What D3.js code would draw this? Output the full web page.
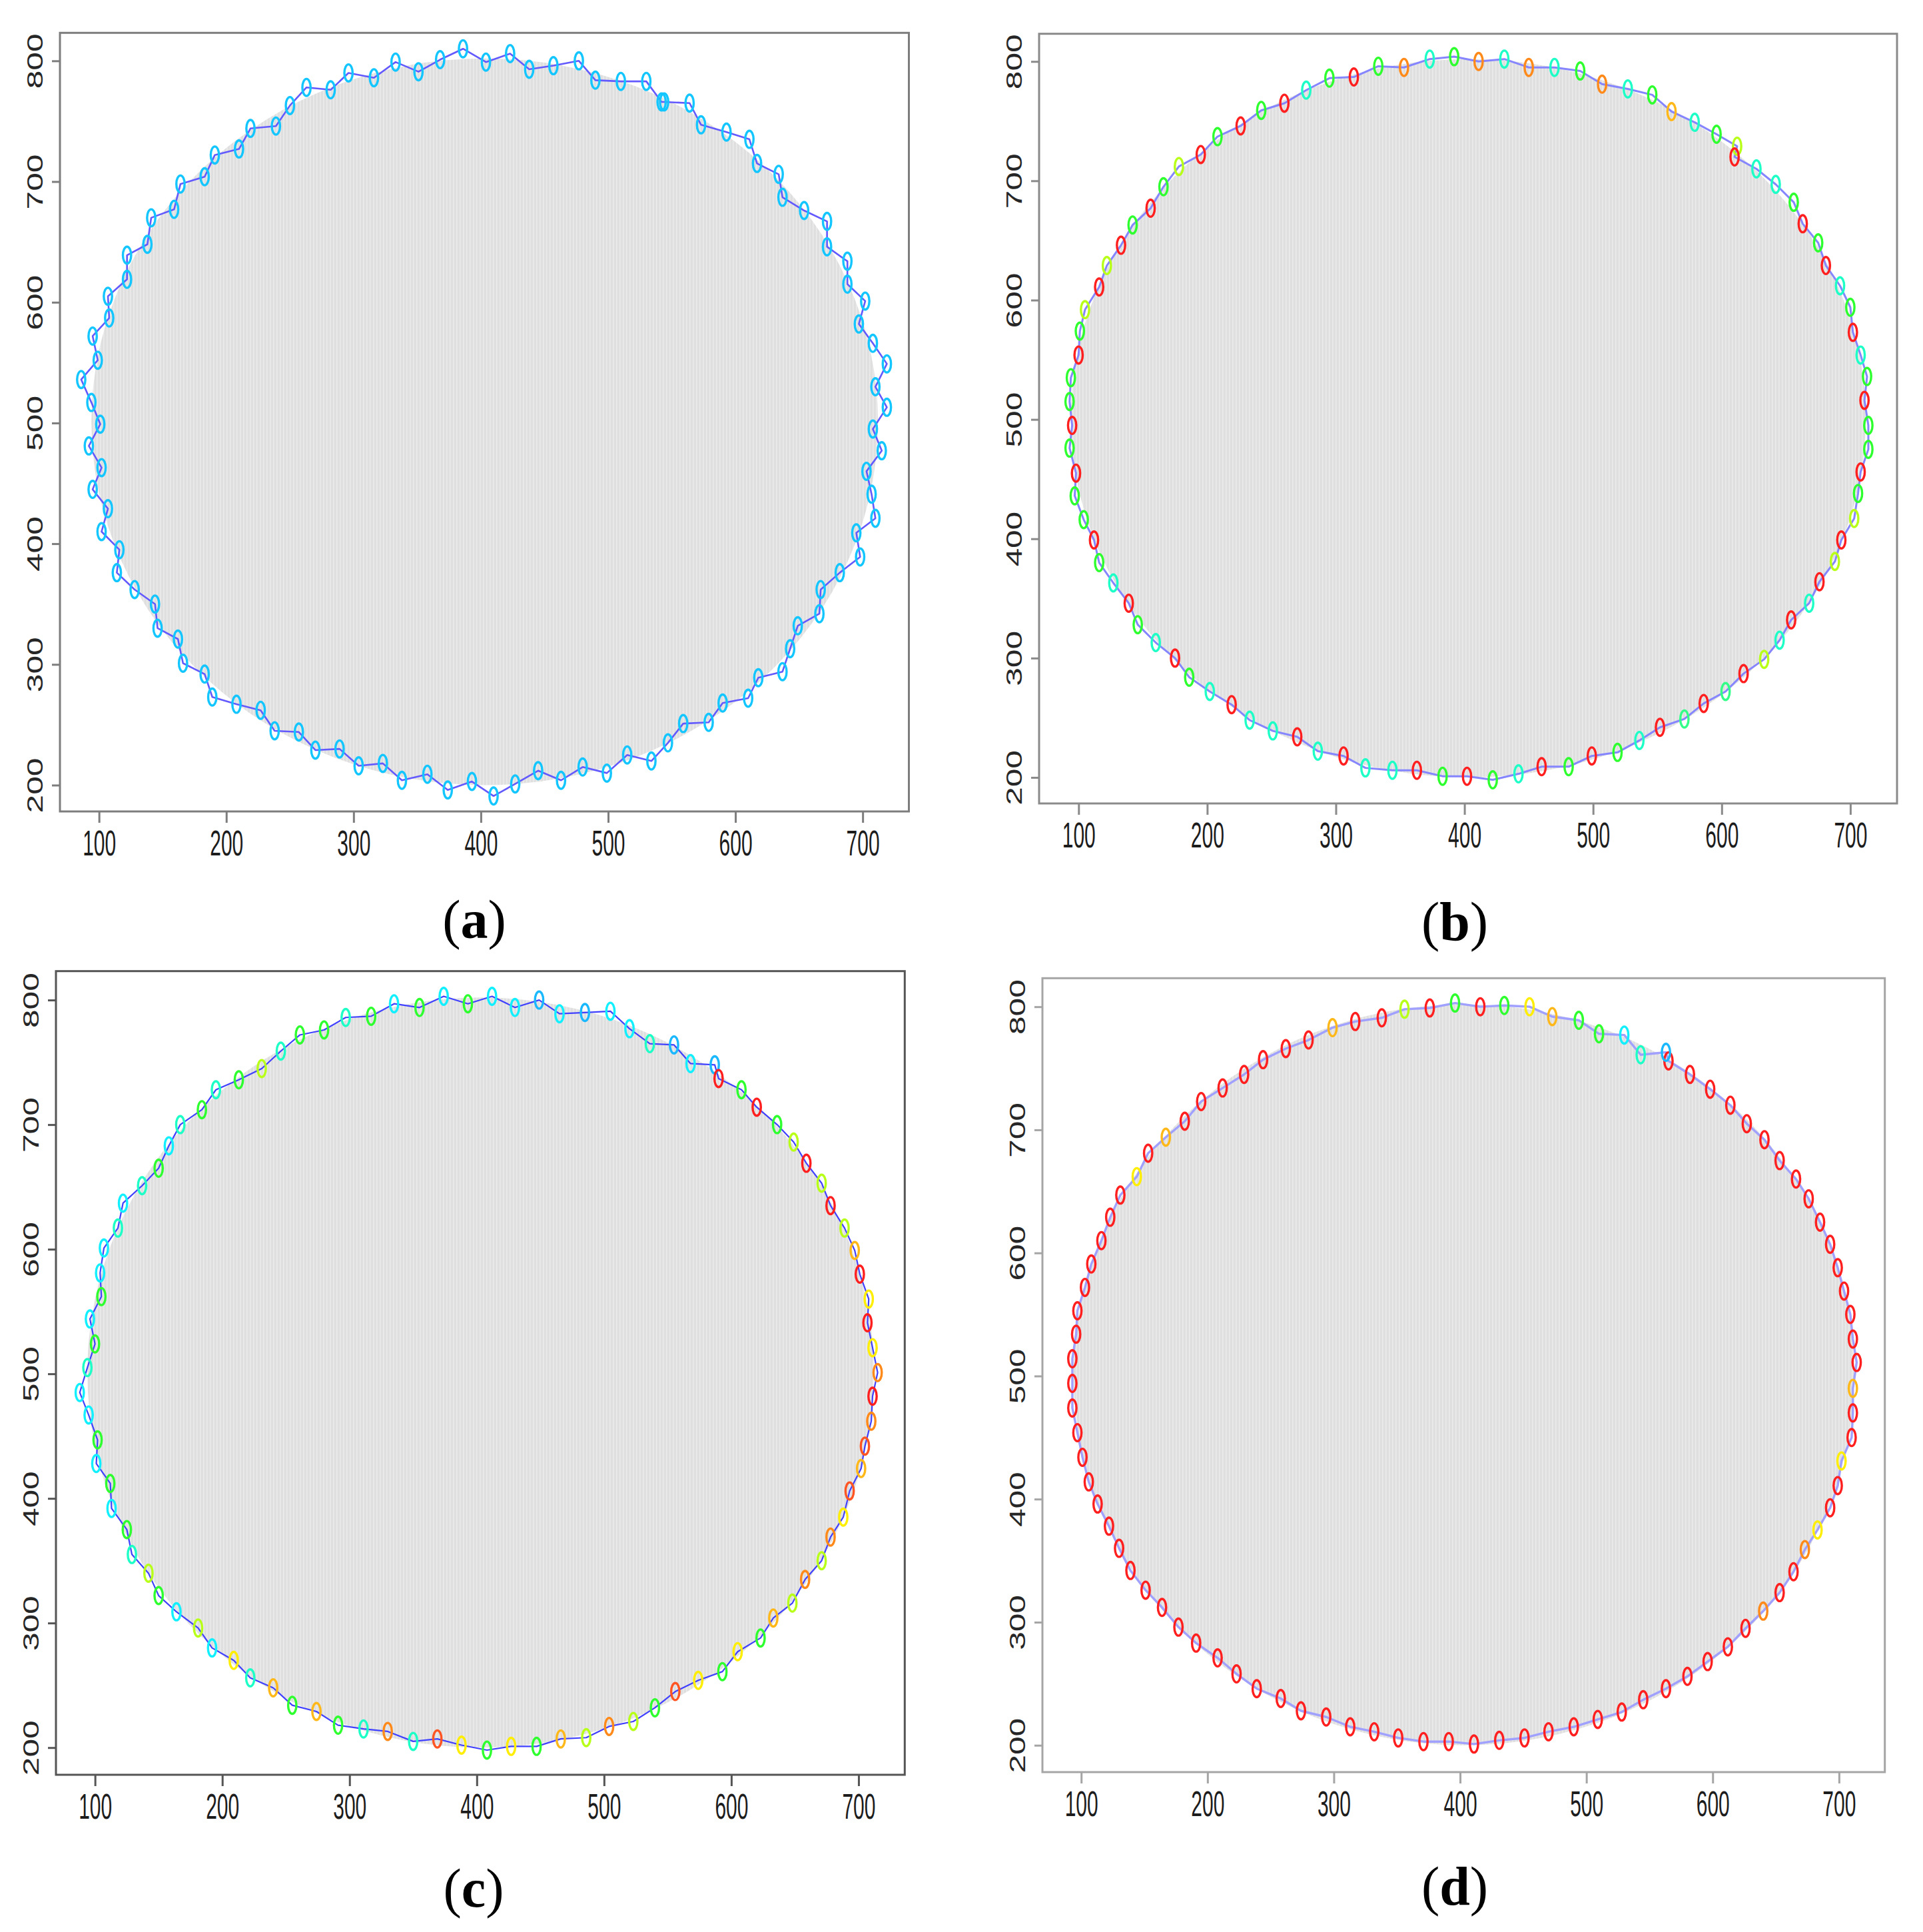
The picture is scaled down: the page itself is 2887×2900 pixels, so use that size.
<!DOCTYPE html>
<html><head><meta charset="utf-8">
<script src="https://cdn.jsdelivr.net/npm/d3@7"></script>
<style>html,body{margin:0;padding:0;background:#fff;} svg{display:block;}</style>
</head><body>
<svg id="chart" width="2887" height="2900"></svg>
<script>
// ---------- data ----------
const xTicks = [100, 200, 300, 400, 500, 600, 700];
const yTicks = [200, 300, 400, 500, 600, 700, 800];
const xDomain = [69.3, 736.3];
const yDomain = [178.2, 823.2];
const regionCenter = [403, 501];
const regionRadii = [309, 301];
const panelLetters = ["a", "b", "c", "d"];

// panel (a)
const aX = [86,99,95,108,107,122,122,138,141,159,164,183,191,210,219,239,250,263,282,296,316,333,351,368,386,404,423,438,457,477,490,510,530,542,544,564,573,593,611,617,634,637,654,672,672,688,688,702,697,708,719,710,719,708,715,703,707,710,695,698,682,667,666,649,643,637,618,610,590,579,559,547,534,515,499,480,463,445,427,410,393,374,358,338,323,304,289,270,257,238,227,208,189,183,166,162,146,144,128,114,116,102,107,95,102,92,101,94];
const aY = [536,552,572,587,605,619,639,648,670,677,698,704,722,727,744,746,763,778,776,790,786,799,791,801,810,799,806,793,796,800,784,783,783,766,766,765,747,741,735,715,706,687,676,667,646,634,615,601,582,566,549,530,513,495,477,460,441,421,409,389,376,362,342,332,313,294,289,272,268,252,251,235,220,225,210,215,204,212,201,191,203,196,209,204,218,216,230,229,244,245,262,267,273,292,301,321,330,350,362,376,395,410,429,445,463,481,499,517];
const aC = aX.map(() => "AC");

// panel (b)
const bX = [93,95,93,94,100,101,105,116,122,133,142,156,166,178,195,208,226,242,260,277,295,314,333,353,373,392,411,431,450,470,490,507,527,546,561,579,596,612,610,627,642,656,663,675,681,692,700,702,708,713,711,714,714,708,706,703,693,688,676,668,654,645,633,617,603,586,571,552,536,519,499,481,460,442,422,402,383,363,344,323,306,286,270,251,233,219,202,186,175,160,146,139,127,116,112,104,97,98];
const bY = [476,495,515,535,554,574,592,611,629,646,663,677,695,712,722,737,746,759,765,776,786,787,796,795,802,804,800,802,795,795,792,781,777,772,758,749,739,729,720,710,697,682,664,648,629,612,594,573,554,536,516,495,475,456,438,417,399,381,364,346,332,315,299,287,272,262,249,242,231,221,218,209,209,203,198,201,201,206,206,208,218,222,234,239,248,261,272,284,300,313,328,346,363,380,399,416,436,455];
const bC = ["G","R","G","G","R","G","YG","R","YG","R","G","R","G","YG","R","G","R","G","R","AQ","G","R","G","O","AQ","G","O","AQ","O","AQ","G","O","AQ","G","A","AQ","G","YG","R","AQ","AQ","G","R","G","R","AQ","G","R","AQ","G","R","G","G","R","G","YG","R","YG","R","AQ","R","AQ","YG","R","SG","R","SG","R","AQ","G","R","G","R","AQ","G","R","G","R","AQ","AQ","R","AQ","R","AQ","AQ","R","AQ","G","R","AQ","G","R","AQ","G","R","G","G","R"];

// panel (c)
const cX = [88,94,100,96,105,104,107,118,122,137,150,158,167,184,195,213,231,246,261,280,297,317,335,355,374,393,412,430,449,465,485,505,520,536,555,568,587,590,608,620,636,649,659,671,678,689,697,701,708,707,711,715,711,710,705,702,693,688,678,671,658,648,633,623,605,593,574,556,540,523,504,486,466,447,427,408,388,369,350,330,311,291,274,255,240,222,209,192,181,164,150,142,129,125,113,112,101,102,95];
const cY = [485,505,524,544,562,581,601,617,637,651,665,683,700,712,728,736,745,759,772,776,786,787,797,794,803,797,803,794,800,789,790,791,777,765,764,749,748,737,728,714,700,686,669,653,635,617,599,580,560,541,521,501,482,462,442,424,406,385,369,350,335,316,304,288,277,261,254,245,232,221,217,208,207,201,201,198,202,207,205,213,215,218,229,234,248,256,270,280,296,309,322,340,355,375,392,412,428,447,467];
const cC = ["C","AQ","G","C","G","C","C","AQ","C","AQ","G","C","AQ","G","AQ","G","YG","AQ","G","G","AQ","G","C","G","C","G","C","C","DS","C","DS","C","C","AQ","DS","C","DS","R","G","R","G","YG","R","YG","R","YG","A","R","Y","R","Y","O","R","O","OR","A","OR","Y","O","YG","O","YG","A","G","Y","G","Y","OR","G","YG","O","YG","A","G","Y","G","Y","OR","AQ","O","AQ","G","A","G","A","AQ","Y","C","YG","C","G","YG","AQ","G","C","G","C","G","C"];

// panel (d)
const dX = [93,93,93,97,101,106,113,122,130,139,151,164,177,191,208,223,239,258,274,294,313,332,351,371,391,411,431,451,470,490,509,528,545,563,580,596,612,626,640,653,664,673,683,693,699,702,710,711,711,714,711,709,704,699,693,685,676,666,653,641,627,614,598,582,565,563,543,530,510,494,473,455,435,416,396,376,356,338,317,299,280,262,244,229,212,195,182,167,153,144,131,123,116,108,103,97,96];
const dY = [514,494,474,454,434,414,396,378,360,342,326,312,296,283,271,258,246,238,228,223,215,211,206,203,203,201,204,206,211,215,221,227,237,246,256,268,280,295,309,324,341,359,375,393,411,431,450,470,490,511,530,550,569,588,607,625,644,660,675,692,705,720,733,745,756,763,761,777,778,789,792,800,801,800,803,799,798,791,788,783,773,766,757,745,734,723,707,694,681,662,647,629,610,591,572,553,534];
const dC = ["R","R","R","R","R","R","R","R","R","R","R","R","R","R","R","R","R","R","R","R","R","R","R","R","R","R","R","R","R","R","R","R","R","R","R","R","R","R","O","R","R","O","Y","R","R","Y","R","R","A","R","R","R","R","R","R","R","R","R","R","R","R","R","R","R","R","DS","AQ","C","G","G","A","Y","G","R","G","R","YG","R","R","A","R","R","R","R","R","R","R","A","R","Y","R","R","R","R","R","R","R"];

// ---------- styles / layout ----------
const palette = {R:"#ff1f1f", OR:"#ff5522", O:"#ff8a1a", A:"#ffb81a", Y:"#ffee00", YG:"#b8ff1a",
  G:"#2eff2e", SG:"#33ff88", AQ:"#1effc8", C:"#12f0ff", DS:"#1ab8ff", AC:"#14c6ff"};

const layout = [
  {xs:aX, ys:aY, cs:aC, box:[90,49.3,1364.5,1218], frame:"#7d7d7d", line:"#6259ff", lw:2.6, label:[712,1408]},
  {xs:bX, ys:bY, cs:bC, box:[1560,50.7,2848,1206], frame:"#8a8a8a", line:"#8585ff", lw:3.0, label:[2184,1411]},
  {xs:cX, ys:cY, cs:cC, box:[84,1457.7,1358.3,2664], frame:"#555555", line:"#4040ff", lw:2.2, label:[711,2862]},
  {xs:dX, ys:dY, cs:dC, box:[1565,1468.3,2829.7,2660], frame:"#a5a5a5", line:"#a0a0ff", lw:3.4, label:[2184,2859]}
];

const svg = d3.select("#chart");
svg.append("rect").attr("width",2887).attr("height",2900).attr("fill","#fff");

const defs = svg.append("defs");
const pat = defs.append("pattern").attr("id","stripes").attr("patternUnits","userSpaceOnUse")
  .attr("width",5).attr("height",10);
pat.append("rect").attr("width",5).attr("height",10).attr("fill","#dfdfdf");
pat.append("rect").attr("x",0).attr("width",1.6).attr("height",10).attr("fill","#ebebeb");

layout.forEach((p, i) => {
  const [L, T, R, B] = p.box;
  const x = d3.scaleLinear().domain(xDomain).range([L, R]);
  const y = d3.scaleLinear().domain(yDomain).range([B, T]);
  const g = svg.append("g");

  // gray region
  g.append("ellipse")
    .attr("cx", x(regionCenter[0])).attr("cy", y(regionCenter[1]))
    .attr("rx", x(regionCenter[0] + regionRadii[0]) - x(regionCenter[0]))
    .attr("ry", y(regionCenter[1]) - y(regionCenter[1] + regionRadii[1]))
    .attr("fill", "url(#stripes)");

  // polygon line
  const pts = p.xs.map((v, k) => [v, p.ys[k], p.cs[k]]);
  const line = d3.line().x(d => x(d[0])).y(d => y(d[1])).curve(d3.curveLinearClosed);
  g.append("path").datum(pts).attr("d", line)
    .attr("fill","none").attr("stroke", p.line).attr("stroke-width", p.lw)
    .attr("stroke-linejoin","round");

  // markers
  g.selectAll("ellipse.pt").data(pts).join("ellipse").attr("class","pt")
    .attr("cx", d => x(d[0])).attr("cy", d => y(d[1]))
    .attr("rx", 6.2).attr("ry", 12.8)
    .attr("fill","none").attr("stroke", d => palette[d[2]]).attr("stroke-width", 3.4);

  // frame
  g.append("rect").attr("x", L).attr("y", T).attr("width", R - L).attr("height", B - T)
    .attr("fill","none").attr("stroke", p.frame).attr("stroke-width", 3);

  // x axis
  const gx = g.append("g").attr("transform", `translate(0,${B})`)
    .call(d3.axisBottom(x).tickValues(xTicks).tickSize(17).tickFormat(d3.format("d")));
  gx.select(".domain").remove();
  gx.selectAll(".tick line").attr("stroke", p.frame).attr("stroke-width", 3);
  gx.selectAll(".tick text")
    .attr("y", 0).attr("dy", 0)
    .attr("transform", "translate(0,66) scale(1,1.77)")
    .attr("font-family", "'Liberation Sans', Arial, sans-serif")
    .attr("font-size", 30).attr("fill", "#1c1c1c").attr("text-anchor","middle");

  // y axis
  const gy = g.append("g").attr("transform", `translate(${L},0)`)
    .call(d3.axisLeft(y).tickValues(yTicks).tickSize(12).tickFormat(d3.format("d")));
  gy.select(".domain").remove();
  gy.selectAll(".tick line").attr("stroke", p.frame).attr("stroke-width", 3);
  gy.selectAll(".tick text")
    .attr("x", 0).attr("dy", 0)
    .attr("transform", "translate(-26,0) rotate(-90) scale(1.46,1)")
    .attr("font-family", "'Liberation Sans', Arial, sans-serif")
    .attr("font-size", 34).attr("fill", "#262626").attr("text-anchor","middle");

  // panel label
  const t = svg.append("text").attr("x", p.label[0]).attr("y", p.label[1])
    .attr("text-anchor","middle").attr("font-family","'Liberation Serif', 'DejaVu Serif', serif")
    .attr("font-size", 82).attr("fill","#000");
  t.append("tspan").text("(");
  t.append("tspan").attr("font-weight","bold").text(panelLetters[i]);
  t.append("tspan").text(")");
});
</script>
</body></html>
